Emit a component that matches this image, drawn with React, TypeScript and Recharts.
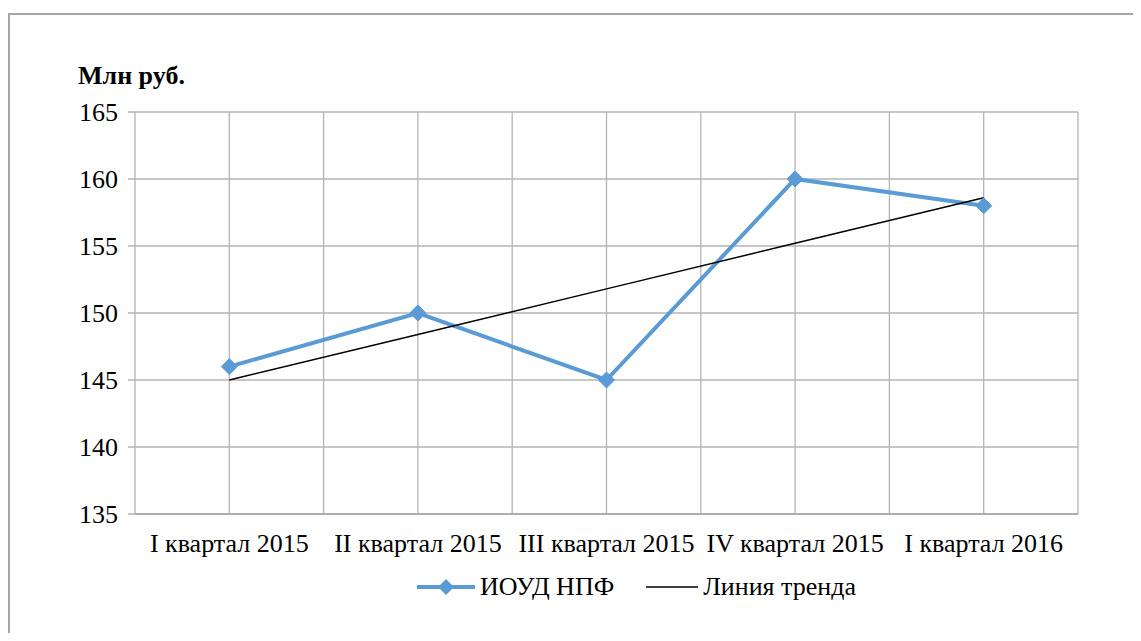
import React from 'react';
import { LineChart, Line, XAxis, YAxis, CartesianGrid, Legend } from 'recharts';

const categories = ['I квартал 2015', 'II квартал 2015', 'III квартал 2015', 'IV квартал 2015', 'I квартал 2016'];
const seriesValues = [146, 150, 145, 160, 158];
const trendValues = [145.0, 148.4, 151.8, 155.2, 158.6];
const yTicks = [135, 140, 145, 150, 155, 160, 165];
const seriesName = 'ИОУД НПФ';
const trendName = 'Линия тренда';
const unitTitle = 'Млн руб.';

const data = categories.map((c, i) => ({ x: i + 0.5, cat: c, value: seriesValues[i], trend: trendValues[i] }));
const xTicks = Array.from({ length: categories.length * 2 + 1 }, (_, i) => i / 2);

const FONT = "'Times New Roman', 'Liberation Serif', Tinos, serif";
const BLUE = '#5b9bd5';

const Diamond = (props: any) => {
  const { cx, cy } = props;
  if (cx == null || cy == null) return null;
  const r = 8;
  return <polygon points={`${cx},${cy - r} ${cx + r},${cy} ${cx},${cy + r} ${cx - r},${cy}`} fill={BLUE} stroke={BLUE} strokeWidth={1} />;
};

const xTickFormatter = (v: number) => {
  const idx = v - 0.5;
  if (Number.isInteger(idx) && idx >= 0 && idx < categories.length) return categories[idx];
  return '';
};

const LegendContent = () => (
  <div style={{ display: 'flex', justifyContent: 'center', alignItems: 'center', fontFamily: FONT, fontSize: 26, color: '#000', height: 30 }}>
    <svg width={58} height={20} style={{ marginRight: 5 }}>
      <line x1={0} y1={10} x2={58} y2={10} stroke={BLUE} strokeWidth={4} />
      <polygon points="29,2 37,10 29,18 21,10" fill={BLUE} />
    </svg>
    <span style={{ marginRight: 32 }}>{seriesName}</span>
    <svg width={52} height={20} style={{ marginRight: 5 }}>
      <line x1={0} y1={10} x2={52} y2={10} stroke="#000" strokeWidth={1.5} />
    </svg>
    <span>{trendName}</span>
  </div>
);

export default function App() {
  return (
    <div style={{ position: 'relative', width: 1125, height: 620, marginTop: 5, borderLeft: '2px solid #a6a6a6', borderTop: '2px solid #a6a6a6', boxSizing: 'border-box', fontFamily: FONT }}>
      <div style={{ position: 'absolute', left: 68, top: 46, fontFamily: FONT, fontWeight: 700, fontSize: 26, color: '#000', whiteSpace: 'nowrap' }}>{unitTitle}</div>
      <div style={{ position: 'absolute', left: -10, top: -15 }}>
        <LineChart width={1141} height={641} data={data} margin={{ top: 112, right: 63, bottom: 57, left: 75 }} style={{ fontFamily: FONT }}>
          <CartesianGrid stroke="#b4b4b4" strokeWidth={1.3} />
          <XAxis
            dataKey="x"
            type="number"
            domain={[0, categories.length]}
            ticks={xTicks}
            interval={0}
            tickFormatter={xTickFormatter}
            tickLine={false}
            axisLine={{ stroke: '#a6a6a6', strokeWidth: 1.3 }}
            height={40}
            tick={{ fontFamily: FONT, fontSize: 26, fill: '#000' }}
            tickMargin={14}
          />
          <YAxis
            type="number"
            domain={[135, 165]}
            ticks={yTicks}
            width={60}
            axisLine={false}
            tickLine={{ stroke: '#a6a6a6', strokeWidth: 1.3 }}
            tickSize={7}
            tickMargin={10}
            tick={{ fontFamily: FONT, fontSize: 26, fill: '#000' }}
          />
          <Legend verticalAlign="bottom" content={<LegendContent />} wrapperStyle={{ top: 572, bottom: 'auto', left: 66, width: 1141, height: 30 }} />
          <Line dataKey="value" name={seriesName} stroke={BLUE} strokeWidth={4} dot={<Diamond />} activeDot={false} isAnimationActive={false} />
          <Line dataKey="trend" name={trendName} stroke="#000" strokeWidth={1.5} dot={false} activeDot={false} isAnimationActive={false} />
        </LineChart>
      </div>
    </div>
  );
}
